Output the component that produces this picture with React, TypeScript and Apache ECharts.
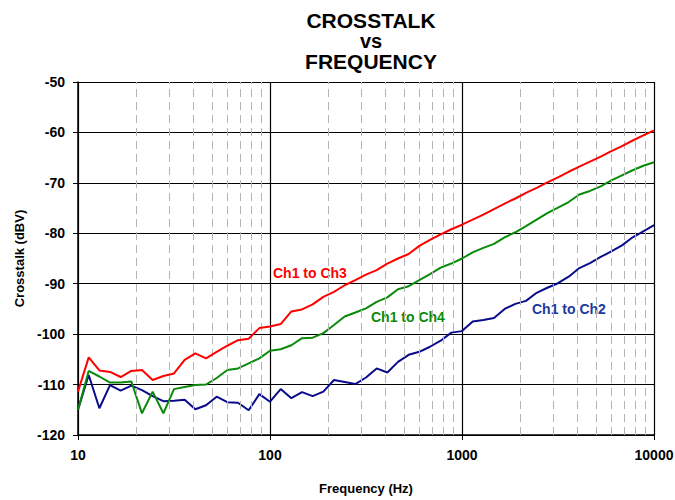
import React, { useEffect, useRef } from "react";
import * as echarts from "echarts";

// Frequencies (Hz): 18 points per decade from 10 Hz to 10 kHz
const frequencies = [
  10, 11.37, 12.92, 14.68, 16.68, 18.96, 21.54, 24.48, 27.83, 31.62, 35.94, 40.84, 46.42, 52.75, 59.95, 68.13, 77.43, 88.0,
  100, 113.7, 129.2, 146.8, 166.8, 189.6, 215.4, 244.8, 278.3, 316.2, 359.4, 408.4, 464.2, 527.5, 599.5, 681.3, 774.3, 880.0,
  1000, 1137, 1292, 1468, 1668, 1896, 2154, 2448, 2783, 3162, 3594, 4084, 4642, 5275, 5995, 6813, 7743, 8800,
  10000,
];

const ch1ToCh3 = [
  -111.4, -104.6, -107.2, -107.5, -108.5, -107.3, -107.1, -109.1, -108.3, -107.8, -105.1, -103.8, -104.8, -103.5, -102.3, -101.2, -100.9, -98.8,
  -98.5, -98.0, -95.5, -95.1, -94.1, -92.6, -91.6, -90.3, -89.3, -88.2, -87.3, -86.0, -85.0, -84.1, -82.5, -81.3, -80.2, -79.2,
  -78.3, -77.3, -76.3, -75.2, -74.1, -73.1, -72.0, -71.0, -69.9, -68.9, -67.8, -66.8, -65.8, -64.8, -63.7, -62.7, -61.6, -60.6,
  -59.6,
];

const ch1ToCh4 = [
  -115.0, -107.3, -108.4, -109.6, -109.6, -109.4, -115.7, -111.4, -115.7, -110.9, -110.5, -110.1, -110.0, -108.7, -107.1, -106.8, -105.8, -104.8,
  -103.3, -103.0, -102.2, -100.8, -100.7, -99.8, -98.2, -96.5, -95.7, -94.9, -93.6, -92.7, -91.1, -90.5, -89.3, -88.1, -86.8, -86.0,
  -85.0, -83.8, -82.9, -82.1, -80.8, -79.8, -78.6, -77.3, -76.0, -74.9, -73.8, -72.3, -71.6, -70.7, -69.5, -68.5, -67.5, -66.6,
  -65.9,
];

const ch1ToCh2 = [
  -115.0, -108.1, -114.7, -110.1, -111.2, -110.2, -111.1, -112.3, -113.3, -113.2, -113.0, -114.9, -114.1, -112.4, -113.5, -113.6, -115.1, -111.9,
  -113.4, -110.9, -112.7, -111.5, -112.3, -111.4, -109.1, -109.5, -109.9, -108.6, -106.8, -107.6, -105.5, -104.1, -103.5, -102.5, -101.3, -99.7,
  -99.4, -97.5, -97.2, -96.8, -95.0, -94.0, -93.4, -91.8, -90.8, -89.9, -88.6, -86.9, -85.9, -84.7, -83.6, -82.4, -80.8, -79.6,
  -78.4,
];

const minorGridFreqs = [
  20, 30, 40, 50, 60, 70, 80, 90,
  200, 300, 400, 500, 600, 700, 800, 900,
  2000, 3000, 4000, 5000, 6000, 7000, 8000, 9000,
];

const titleLines = ["CROSSTALK", "vs", "FREQUENCY"];
const seriesNames = ["Ch1 to Ch2", "Ch1 to Ch4", "Ch1 to Ch3"];
const lineColors = ["#0a0a8c", "#0a8a0a", "#ff0000"];
const labelColors = ["#1a3a9e", "#0a8a0a", "#ff0000"];

const FONT = "'Liberation Sans', Arial, Helvetica, sans-serif";

function pairs(values: number[]) {
  return frequencies.map((f, i) => [f, values[i]]);
}

export default function App() {
  const ref = useRef<HTMLDivElement>(null);

  useEffect(() => {
    if (!ref.current) return;
    const chart = echarts.init(ref.current, null, { renderer: "svg" });
    const seriesValues = [ch1ToCh2, ch1ToCh4, ch1ToCh3];
    const titleY = [20, 40.5, 61.5];
    const titleSize = [21, 20, 21];

    chart.setOption({
      animation: false,
      backgroundColor: "#ffffff",
      grid: { left: 78, right: 21, top: 82, bottom: 65, containLabel: false, outerBoundsMode: "none" },
      xAxis: {
        type: "log",
        logBase: 10,
        min: 10,
        max: 10000,
        name: "Frequency (Hz)",
        nameLocation: "middle",
        nameGap: 47,
        nameTextStyle: { fontFamily: FONT, fontWeight: "bold", fontSize: 13, color: "#000" },
        axisLine: { show: true, lineStyle: { color: "#000", width: 1.5 } },
        axisTick: { show: true, inside: false, length: 5, lineStyle: { color: "#000" } },
        axisLabel: {
          fontFamily: FONT,
          fontWeight: "bold",
          fontSize: 14,
          color: "#000",
          margin: 13,
          formatter: (v: number) => String(Math.round(v)),
        },
        splitLine: { show: true, lineStyle: { color: "#000", width: 1.2 } },
        minorTick: { show: false },
      },
      yAxis: {
        type: "value",
        min: -120,
        max: -50,
        interval: 10,
        name: "Crosstalk (dBV)",
        nameLocation: "middle",
        nameGap: 52,
        nameRotate: 90,
        nameTextStyle: { fontFamily: FONT, fontWeight: "bold", fontSize: 13, color: "#000" },
        axisLine: { show: true, lineStyle: { color: "#000", width: 1.5 } },
        axisTick: { show: true, inside: false, length: 5, lineStyle: { color: "#000" } },
        axisLabel: { fontFamily: FONT, fontWeight: "bold", fontSize: 14, color: "#000", margin: 13 },
        splitLine: { show: true, lineStyle: { color: "#000", width: 1.2 } },
      },
      series: [
        {
          name: "minor",
          type: "line",
          data: [],
          silent: true,
          markLine: {
            silent: true,
            symbol: ["none", "none"],
            label: { show: false },
            lineStyle: { color: "#b4b4b4", width: 1, type: [8, 5] },
            data: minorGridFreqs.map((f) => ({ xAxis: f })),
          },
        },
        ...seriesValues.map((vals, i) => ({
          name: seriesNames[i],
          type: "line",
          data: pairs(vals),
          showSymbol: false,
          symbol: "none",
          lineStyle: { color: lineColors[i], width: 2 },
          itemStyle: { color: lineColors[i] },
          z: 3 + i,
        })),
      ],
      graphic: [
        ...titleLines.map((t, i) => ({
          type: "text",
          x: 371,
          y: titleY[i],
          style: {
            text: t,
            fontFamily: FONT,
            fontWeight: "bold",
            fontSize: titleSize[i],
            fill: "#000",
            textAlign: "center",
            textVerticalAlign: "middle",
          },
        })),
        {
          type: "text",
          x: 273,
          y: 273,
          style: { text: "Ch1 to Ch3", fontFamily: FONT, fontWeight: "bold", fontSize: 14, fill: labelColors[2], textVerticalAlign: "middle" },
        },
        {
          type: "text",
          x: 371,
          y: 317,
          style: { text: "Ch1 to Ch4", fontFamily: FONT, fontWeight: "bold", fontSize: 14, fill: labelColors[1], textVerticalAlign: "middle" },
        },
        {
          type: "text",
          x: 532,
          y: 309,
          style: { text: "Ch1 to Ch2", fontFamily: FONT, fontWeight: "bold", fontSize: 14, fill: labelColors[0], textVerticalAlign: "middle" },
        },
      ],
    });

    return () => chart.dispose();
  }, []);

  return (
    <div
      ref={ref}
      style={{ position: "fixed", left: 0, top: 0, width: 675, height: 500, background: "#fff" }}
    />
  );
}
